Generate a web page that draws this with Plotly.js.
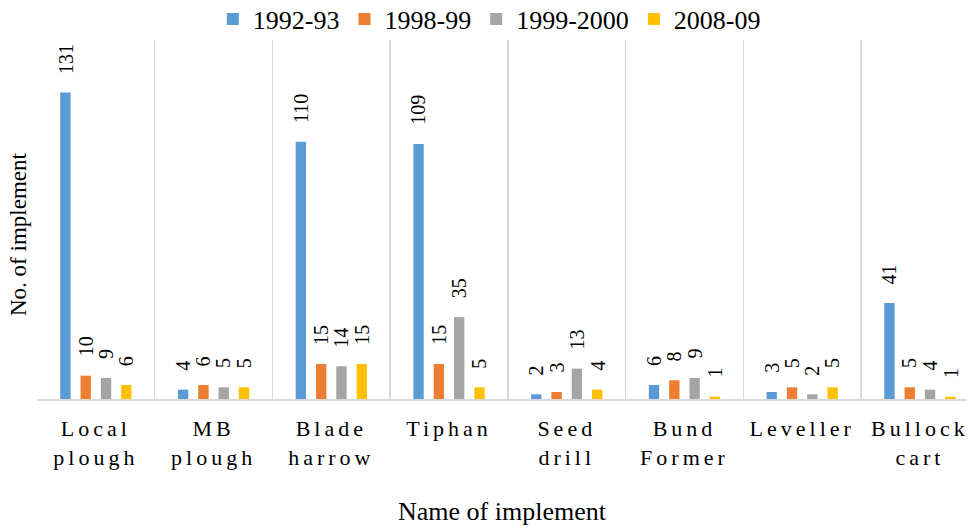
<!DOCTYPE html>
<html>
<head>
<meta charset="utf-8">
<script src="https://cdn.plot.ly/plotly-3.0.1.min.js"></script>
<style>html,body{margin:0;padding:0;background:#fff;}</style>
</head>
<body>
<div id="chart" style="width:969px;height:528px;"></div>
<script>
// ---- data ----
const categories = ['Local plough', 'MB plough', 'Blade harrow', 'Tiphan', 'Seed drill', 'Bund Former', 'Leveller', 'Bullock cart'];
const tickLines = [['Local', 'plough'], ['MB', 'plough'], ['Blade', 'harrow'], ['Tiphan'], ['Seed', 'drill'], ['Bund', 'Former'], ['Leveller'], ['Bullock', 'cart']];
const seriesNames = ['1992-93', '1998-99', '1999-2000', '2008-09'];
const v1992 = [131, 4, 110, 109, 2, 6, 3, 41];
const v1998 = [10, 6, 15, 15, 3, 8, 5, 5];
const v1999 = [9, 5, 14, 35, 13, 9, 2, 4];
const v2008 = [6, 5, 15, 5, 4, 1, 5, 1];
const seriesValues = [v1992, v1998, v1999, v2008];
const colors = ['#5B9BD5', '#ED7D31', '#A5A5A5', '#FFC000'];

// ---- layout constants ----
const W = 969, H = 528;
const margin = {l: 37, r: 2, t: 40, b: 129, autoexpand: false};
const plotH = H - margin.t - margin.b;
const xRange = [-0.5, 7.4];
const bargap = 0.31;
const catPx = (W - margin.l - margin.r) / (xRange[1] - xRange[0]);
const slotPx = catPx * (1 - bargap) / 4;
const FONT = "'Liberation Serif', 'Times New Roman', serif";

const traces = seriesValues.map((vals, i) => ({
  type: 'bar',
  name: seriesNames[i],
  x: categories,
  y: vals,
  marker: {color: colors[i]},
  hoverinfo: 'none'
}));

const annotations = [];
seriesValues.forEach((vals, i) => {
  vals.forEach((v, j) => {
    annotations.push({
      x: categories[j], y: v, xref: 'x', yref: 'y',
      text: String(v), showarrow: false, textangle: -90,
      xanchor: 'center', yanchor: 'bottom',
      xshift: (i - 1.5) * slotPx, yshift: 17,
      font: {family: FONT, size: 20, color: '#000'}
    });
  });
});
annotations.push({
  text: 'No. of implement', xref: 'paper', yref: 'paper',
  x: 0, y: (399 - 235) / plotH, xshift: -19,
  xanchor: 'center', yanchor: 'middle', textangle: -90, showarrow: false,
  font: {family: FONT, size: 23, color: '#000'}
});

const ticktext = tickLines.map(lines => lines.map(l => '<span style="letter-spacing:4px">' + l + '</span>').join('<br>'));

const layout = {
  width: W, height: H,
  margin: margin,
  paper_bgcolor: '#fff', plot_bgcolor: '#fff',
  barmode: 'group', bargap: bargap, bargroupgap: 0.49,
  font: {family: FONT, color: '#000'},
  showlegend: true,
  legend: {
    orientation: 'h', xref: 'container', yref: 'paper',
    x: 0.505, xanchor: 'center', y: 1 + (margin.t - 19) / plotH, yanchor: 'middle',
    font: {family: FONT, size: 26, color: '#000'},
    itemwidth: 30, traceorder: 'normal', bgcolor: 'rgba(0,0,0,0)'
  },
  xaxis: {
    type: 'category', range: xRange,
    tickmode: 'array', tickvals: categories, ticktext: ticktext,
    tickson: 'boundaries', ticks: '',
    showgrid: true, gridcolor: '#d9d9d9', gridwidth: 1.5,
    showline: true, linecolor: '#d9d9d9', linewidth: 2,
    tickfont: {family: FONT, size: 22, color: '#000'},
    ticklabelstandoff: 9,
    title: {text: 'Name of implement', font: {family: FONT, size: 26, color: '#000'}, standoff: 33}
  },
  yaxis: {
    range: [0, 153.5], showgrid: false, zeroline: false, showticklabels: false, showline: false, ticks: ''
  },
  annotations: annotations
};

Plotly.newPlot('chart', traces, layout, {displayModeBar: false, staticPlot: true});
</script>
</body>
</html>
